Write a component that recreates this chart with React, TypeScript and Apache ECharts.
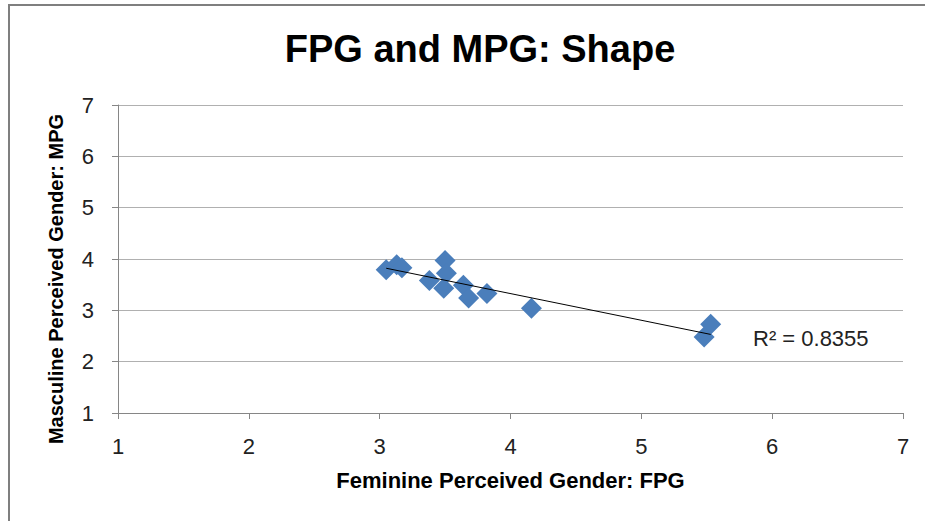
import React, { useEffect, useRef } from "react";
import * as echarts from "echarts";

const FPG = [3.05, 3.13, 3.17, 3.38, 3.5, 3.51, 3.49, 3.64, 3.68, 3.82, 4.16, 5.53, 5.48];
const MPG = [3.79, 3.89, 3.83, 3.58, 3.97, 3.72, 3.43, 3.49, 3.24, 3.33, 3.04, 2.73, 2.48];
const R2_LABEL = "R² = 0.8355";
const TITLE = "FPG and MPG: Shape";
const X_NAME = "Feminine Perceived Gender: FPG";
const Y_NAME = "Masculine Perceived Gender: MPG";

function linearFit(xs: number[], ys: number[]) {
  const n = xs.length;
  const mx = xs.reduce((a, b) => a + b, 0) / n;
  const my = ys.reduce((a, b) => a + b, 0) / n;
  let sxy = 0, sxx = 0;
  for (let i = 0; i < n; i++) {
    sxy += (xs[i] - mx) * (ys[i] - my);
    sxx += (xs[i] - mx) ** 2;
  }
  const slope = sxy / sxx;
  return { slope, intercept: my - slope * mx };
}

export default function App() {
  const ref = useRef<HTMLDivElement>(null);
  useEffect(() => {
    if (!ref.current) return;
    const chart = echarts.init(ref.current, null, { renderer: "svg" });
    const fit = linearFit(FPG, MPG);
    const x0 = Math.min(...FPG);
    const x1 = Math.max(...FPG);
    const font = "Liberation Sans, Arial, sans-serif";
    chart.setOption({
      animation: false,
      backgroundColor: "#ffffff",
      title: {
        text: TITLE,
        left: 475,
        top: 25,
        textAlign: "center",
        textStyle: { fontFamily: font, fontWeight: "bold", fontSize: 38, color: "#000" },
      },
      grid: { left: 118, right: 22, top: 105, bottom: 108, containLabel: false },
      xAxis: {
        type: "value",
        min: 1,
        max: 7,
        interval: 1,
        name: X_NAME,
        nameLocation: "middle",
        nameGap: 56,
        nameTextStyle: { fontFamily: font, fontWeight: "bold", fontSize: 22, color: "#000" },
        axisLine: { show: true, lineStyle: { color: "#868686", width: 1 } },
        axisTick: { show: true, inside: false, length: 6, lineStyle: { color: "#868686" } },
        axisLabel: { fontFamily: font, fontSize: 22, color: "#222", margin: 22 },
        splitLine: { show: false },
      },
      yAxis: {
        type: "value",
        min: 1,
        max: 7,
        interval: 1,
        axisLine: { show: true, lineStyle: { color: "#868686", width: 1 } },
        axisTick: { show: true, inside: false, length: 6, lineStyle: { color: "#868686" } },
        axisLabel: { fontFamily: font, fontSize: 22, color: "#222", margin: 24 },
        splitLine: { show: true, lineStyle: { color: "#b0b0b0", width: 1 } },
      },
      graphic: [
        {
          type: "rect",
          shape: { x: 9, y: 5, width: 1000, height: 1000 },
          style: { fill: "none", stroke: "#7f7f7f", lineWidth: 2 },
          silent: true,
        },
        {
          type: "text",
          x: 56,
          y: 279,
          rotation: Math.PI / 2,
          style: {
            text: Y_NAME,
            fontFamily: font,
            fontWeight: "bold",
            fontSize: 20,
            fill: "#000",
            align: "center",
            verticalAlign: "middle",
          },
        },
        {
          type: "text",
          x: 753,
          y: 338,
          style: {
            text: R2_LABEL,
            fontFamily: font,
            fontSize: 22,
            fill: "#222",
            align: "left",
            verticalAlign: "middle",
          },
        },
      ],
      series: [
        {
          type: "scatter",
          data: FPG.map((x, i) => [x, MPG[i]]),
          symbol: "diamond",
          symbolSize: 21,
          itemStyle: { color: "#4a7ebb", opacity: 1 },
          z: 3,
        },
        {
          type: "line",
          data: [
            [x0, fit.intercept + fit.slope * x0],
            [x1, fit.intercept + fit.slope * x1],
          ],
          showSymbol: false,
          symbol: "none",
          lineStyle: { color: "#000", width: 1 },
          z: 4,
        },
      ],
    });
    return () => chart.dispose();
  }, []);
  return (
    <div
      ref={ref}
      style={{ position: "absolute", left: 0, top: 0, width: 925, height: 521 }}
    />
  );
}
